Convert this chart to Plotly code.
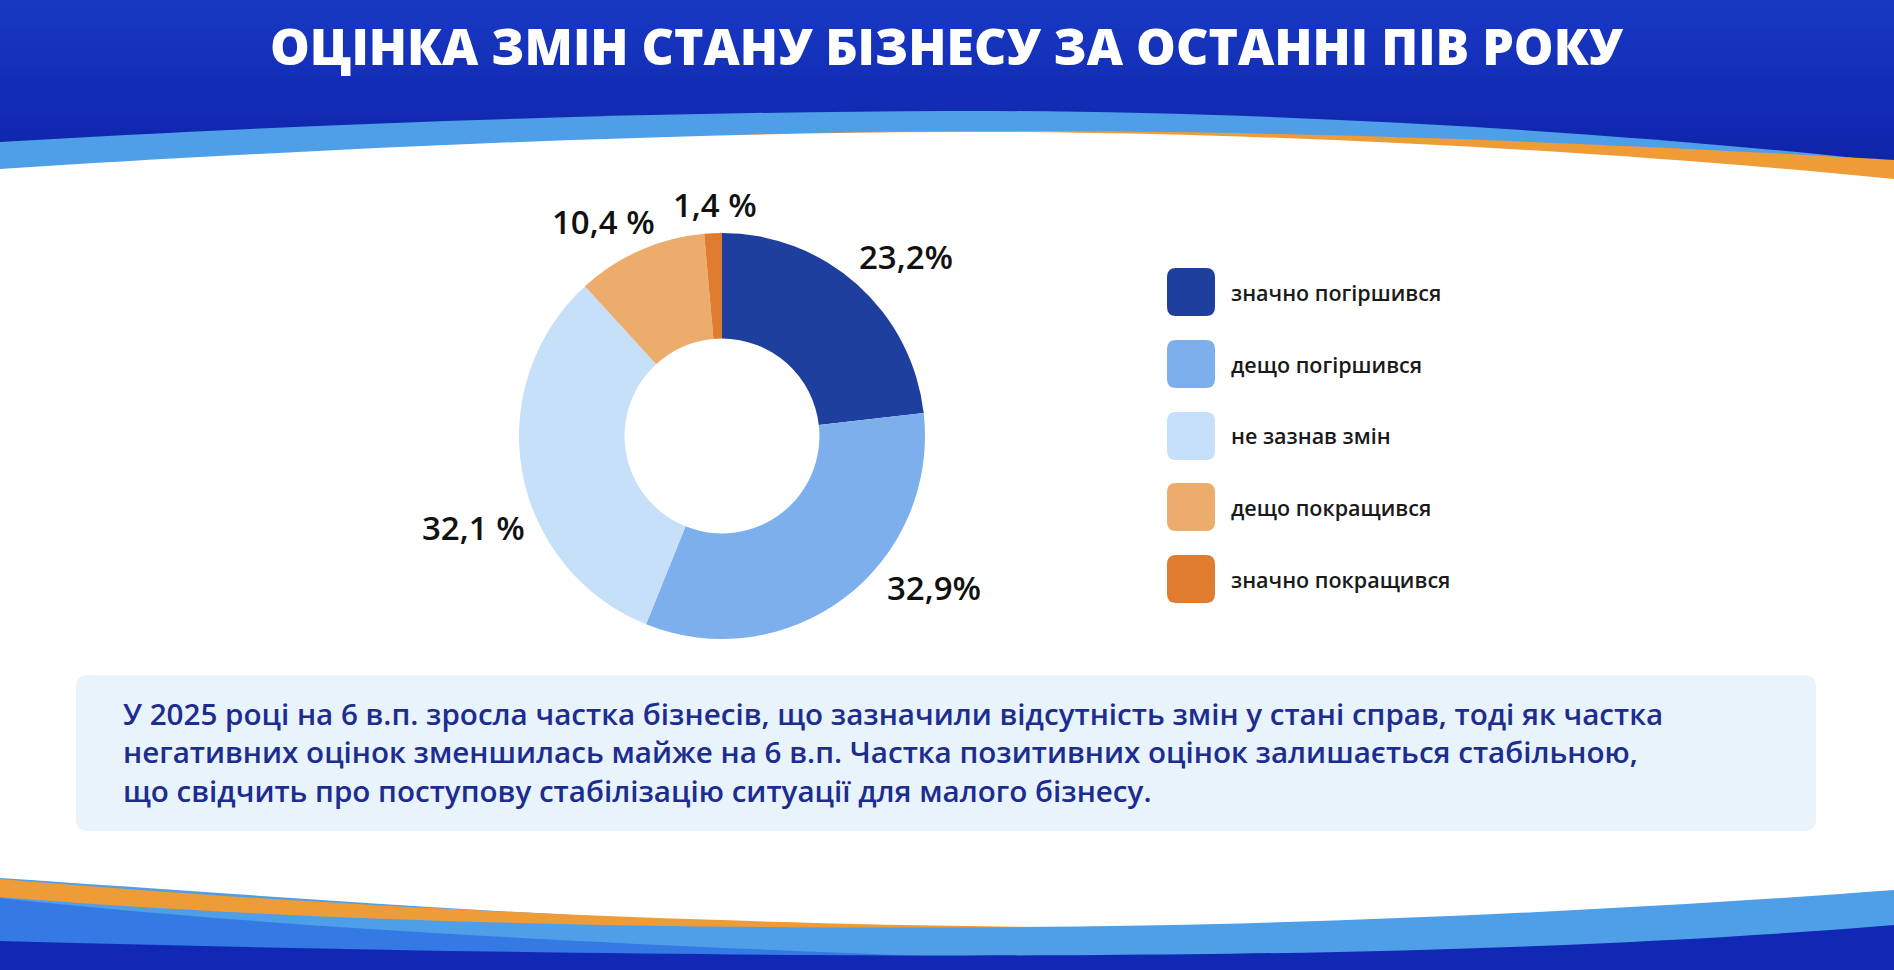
import plotly.graph_objects as go

# ---------------- data ----------------
categories = ["значно погіршився", "дещо погіршився", "не зазнав змін",
              "дещо покращився", "значно покращився"]
values = [23.2, 32.9, 32.1, 10.4, 1.4]
value_labels = ["23,2%", "32,9%", "32,1 %", "10,4 %", "1,4 %"]
colors = ["#1E3F9E", "#7DAFEC", "#C5E0F8", "#ECAC6C", "#E07C30"]

title_text = "ОЦІНКА ЗМІН СТАНУ БІЗНЕСУ ЗА ОСТАННІ ПІВ РОКУ"
note_lines = [
    "У 2025 році на 6 в.п. зросла частка бізнесів, що зазначили відсутність змін у стані справ, тоді як частка",
    "негативних оцінок зменшилась майже на 6 в.п. Частка позитивних оцінок залишається стабільною,",
    "що свідчить про поступову стабілізацію ситуації для малого бізнесу.",
]

# ---------------- layout helpers (pixel -> paper) ----------------
W, H = 1894, 970
FONT = "Open Sans"


def px(x, y):
    return f"{x / W:.5f},{1 - y / H:.5f}"


def fx(x):
    return x / W


def fy(y):
    return 1 - y / H


def rrect(x0, y0, x1, y1, r):
    return (f"M{px(x0 + r, y0)} L{px(x1 - r, y0)} Q{px(x1, y0)} {px(x1, y0 + r)} "
            f"L{px(x1, y1 - r)} Q{px(x1, y1)} {px(x1 - r, y1)} "
            f"L{px(x0 + r, y1)} Q{px(x0, y1)} {px(x0, y1 - r)} "
            f"L{px(x0, y0 + r)} Q{px(x0, y0)} {px(x0 + r, y0)} Z")


shapes = []


def add_path(path, color):
    shapes.append(dict(type="path", path=path, xref="paper", yref="paper",
                       fillcolor=color, line=dict(width=0), layer="below"))


def mix(c1, c2, t):
    a = [int(c1[i:i + 2], 16) for i in (1, 3, 5)]
    b = [int(c2[i:i + 2], 16) for i in (1, 3, 5)]
    return "#" + "".join(f"{round(a[k] + (b[k] - a[k]) * t):02X}" for k in range(3))


LIGHT = "#4F9FE8"
MID = "#3479E4"
ORANGE = "#EE9C37"

# top header: vertical gradient made of thin strips
TOP_A, TOP_B = "#1838C2", "#0D21A6"
n = 20
for i in range(n):
    y0 = 195 * i / n
    y1 = 195 * (i + 1) / n + 1
    add_path(f"M{px(0,y0)} L{px(W,y0)} L{px(W,y1)} L{px(0,y1)} Z", mix(TOP_A, TOP_B, i / (n - 1)))
add_path(f"M{px(0,142)} C{px(300,124)} {px(650,112)} {px(947,111)} "
         f"C{px(1250,110)} {px(1600,130)} {px(W,162)} L{px(W,195)} L{px(0,195)} Z", LIGHT)
add_path(f"M{px(700,136)} C{px(1000,127)} {px(1350,128)} {px(W,160)} "
         f"L{px(W,195)} L{px(700,195)} Z", ORANGE)
add_path(f"M{px(0,169)} C{px(300,150)} {px(650,133)} {px(947,132)} "
         f"C{px(1250,131)} {px(1600,150)} {px(W,179)} L{px(W,205)} L{px(0,205)} Z", "#FFFFFF")

# bottom footer
add_path(f"M{px(0,878)} C{px(300,898)} {px(650,926)} {px(947,927)} "
         f"C{px(1250,928)} {px(1600,912)} {px(W,890)} L{px(W,H)} L{px(0,H)} Z", LIGHT)
add_path(f"M{px(0,898)} C{px(250,925)} {px(550,942)} {px(950,957)} "
         f"L{px(950,H)} L{px(0,H)} Z", MID)
add_path(f"M{px(0,879)} C{px(250,900)} {px(600,922)} {px(1040,927)} "
         f"C{px(650,930)} {px(300,921)} {px(0,897)} Z", ORANGE)
add_path(f"M{px(0,941)} C{px(400,952)} {px(800,957)} {px(1100,955)} "
         f"C{px(1450,953)} {px(1700,941)} {px(W,925)} L{px(W,H)} L{px(0,H)} Z", "#1028B3")

# note box
add_path(rrect(76, 675, 1816, 831, 12), "#E8F3FC")

annotations = []

# title
annotations.append(dict(text=title_text, x=fx(947), y=fy(46), xref="paper", yref="paper",
                        xanchor="center", yanchor="middle", showarrow=False,
                        font=dict(family=FONT, size=50, color="white", weight=800)))

# note (one multi-line text block)
annotations.append(dict(text="<br>".join(note_lines), x=fx(121), y=fy(752),
                        xref="paper", yref="paper", align="left",
                        xanchor="left", yanchor="middle", showarrow=False,
                        font=dict(family=FONT, size=29.6, color="#1C2C8F", weight=600)))

# legend (rounded squares + labels)
legend_y = [292, 364, 436, 507, 579]
for cat, col, yy in zip(categories, colors, legend_y):
    add_path(rrect(1167, yy - 24, 1215, yy + 24, 9), col)
    annotations.append(dict(text=cat, x=fx(1229), y=fy(yy), xref="paper", yref="paper",
                            xanchor="left", yanchor="middle", showarrow=False,
                            font=dict(family=FONT, size=21.5, color="#1A1A1A", weight=600)))

# value labels around the donut
label_pos = [(906, 257), (934, 587), (474, 527), (603, 222), (715, 204)]
for txt, (lx, ly) in zip(value_labels, label_pos):
    annotations.append(dict(text=txt, x=fx(lx), y=fy(ly), xref="paper", yref="paper",
                            xanchor="center", yanchor="middle", showarrow=False,
                            font=dict(family=FONT, size=33, color="#111111", weight=600)))

# ---------------- donut ----------------
cx, cy, R = 722, 436, 203
fig = go.Figure(go.Pie(
    labels=categories, values=values,
    marker=dict(colors=colors, line=dict(width=0)),
    hole=0.48, sort=False, direction="clockwise", rotation=0,
    textinfo="none", showlegend=False,
    domain=dict(x=[fx(cx - R), fx(cx + R)], y=[fy(cy + R), fy(cy - R)]),
))

fig.update_layout(
    width=W, height=H, autosize=False,
    margin=dict(l=0, r=0, t=0, b=0),
    paper_bgcolor="white", plot_bgcolor="white",
    shapes=shapes, annotations=annotations,
    showlegend=False,
)

fig.write_html("out.html", config=dict(displayModeBar=False),
               post_script="document.body.style.margin='0';document.body.style.overflow='hidden';")
